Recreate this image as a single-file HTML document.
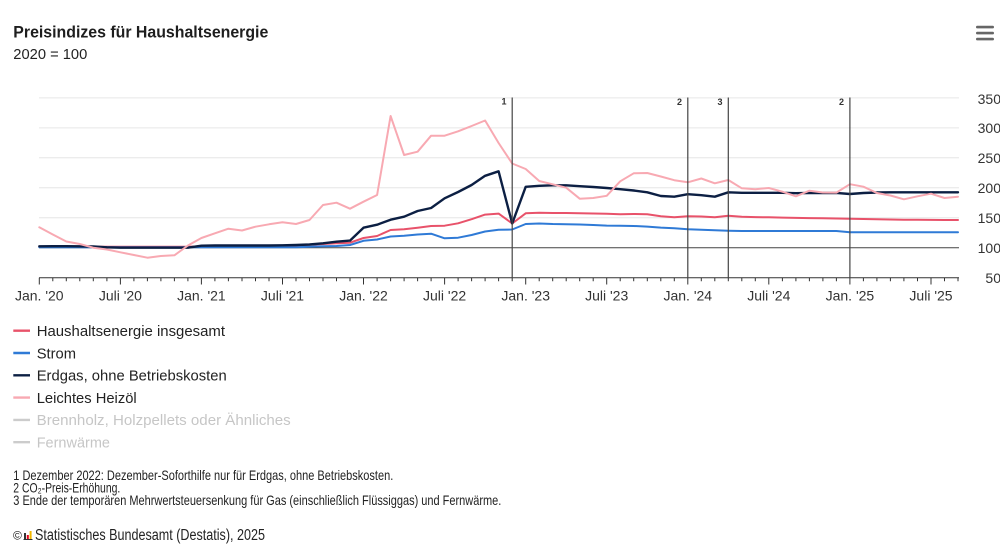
<!DOCTYPE html>
<html><head><meta charset="utf-8"><style>
html,body{margin:0;padding:0;background:#fff;width:1000px;height:550px;overflow:hidden}
svg{display:block}
text{font-family:"Liberation Sans","DejaVu Sans",sans-serif}
</style></head><body>
<svg width="1000" height="550" viewBox="0 0 1000 550" xmlns="http://www.w3.org/2000/svg">
<rect width="1000" height="550" fill="#fff"/>
<!-- title -->
<text x="13.3" y="37.5" font-size="16.8" font-weight="bold" fill="#1e1e1e" textLength="255" lengthAdjust="spacingAndGlyphs">Preisindizes für Haushaltsenergie</text>
<text x="13.3" y="59" font-size="14.5" fill="#222" textLength="74" lengthAdjust="spacingAndGlyphs">2020 = 100</text>
<!-- hamburger -->
<g fill="#666"><rect x="976" y="25.8" width="18" height="2.6" rx="1.2"/><rect x="976" y="31.8" width="18" height="2.6" rx="1.2"/><rect x="976" y="37.8" width="18" height="2.6" rx="1.2"/></g>
<!-- grid -->
<g stroke="#e6e6e6" stroke-width="1">
<line x1="39" y1="97.9" x2="959" y2="97.9"/>
<line x1="39" y1="127.9" x2="959" y2="127.9"/>
<line x1="39" y1="157.8" x2="959" y2="157.8"/>
<line x1="39" y1="187.8" x2="959" y2="187.8"/>
<line x1="39" y1="217.8" x2="959" y2="217.8"/>
</g>
<line x1="39" y1="247.8" x2="959" y2="247.8" stroke="#444" stroke-width="1"/>
<!-- y labels -->
<g font-size="14" fill="#333" text-anchor="end">
<text x="1001" y="104">350</text>
<text x="1001" y="133">300</text>
<text x="1001" y="163">250</text>
<text x="1001" y="193">200</text>
<text x="1001" y="223">150</text>
<text x="1001" y="253">100</text>
<text x="1001" y="283">50</text>
</g>
<!-- x axis -->
<line x1="39" y1="277.7" x2="959" y2="277.7" stroke="#333" stroke-width="1"/>
<path stroke="#333" stroke-width="1" fill="none" d="M39.3 277.7V284.5M52.8 277.7V281.3M66.3 277.7V281.3M79.8 277.7V281.3M93.3 277.7V281.3M106.9 277.7V281.3M120.4 277.7V284.5M133.9 277.7V281.3M147.4 277.7V281.3M160.9 277.7V281.3M174.4 277.7V281.3M187.9 277.7V281.3M201.4 277.7V284.5M214.9 277.7V281.3M228.4 277.7V281.3M242 277.7V281.3M255.5 277.7V281.3M269 277.7V281.3M282.5 277.7V284.5M296 277.7V281.3M309.5 277.7V281.3M323 277.7V281.3M336.5 277.7V281.3M350 277.7V281.3M363.5 277.7V284.5M377.1 277.7V281.3M390.6 277.7V281.3M404.1 277.7V281.3M417.6 277.7V281.3M431.1 277.7V281.3M444.6 277.7V284.5M458.1 277.7V281.3M471.6 277.7V281.3M485.1 277.7V281.3M498.6 277.7V281.3M512.2 277.7V281.3M525.7 277.7V284.5M539.2 277.7V281.3M552.7 277.7V281.3M566.2 277.7V281.3M579.7 277.7V281.3M593.2 277.7V281.3M606.7 277.7V284.5M620.2 277.7V281.3M633.7 277.7V281.3M647.3 277.7V281.3M660.8 277.7V281.3M674.3 277.7V281.3M687.8 277.7V284.5M701.3 277.7V281.3M714.8 277.7V281.3M728.3 277.7V281.3M741.8 277.7V281.3M755.3 277.7V281.3M768.8 277.7V284.5M782.4 277.7V281.3M795.9 277.7V281.3M809.4 277.7V281.3M822.9 277.7V281.3M836.4 277.7V281.3M849.9 277.7V284.5M863.4 277.7V281.3M876.9 277.7V281.3M890.4 277.7V281.3M903.9 277.7V281.3M917.5 277.7V281.3M931 277.7V284.5M944.5 277.7V281.3M958 277.7V281.3"/>
<g font-size="14" fill="#333" text-anchor="middle">
<text x="39.3" y="300.5">Jan. '20</text>
<text x="120.4" y="300.5">Juli '20</text>
<text x="201.4" y="300.5">Jan. '21</text>
<text x="282.5" y="300.5">Juli '21</text>
<text x="363.5" y="300.5">Jan. '22</text>
<text x="444.6" y="300.5">Juli '22</text>
<text x="525.7" y="300.5">Jan. '23</text>
<text x="606.7" y="300.5">Juli '23</text>
<text x="687.8" y="300.5">Jan. '24</text>
<text x="768.8" y="300.5">Juli '24</text>
<text x="849.9" y="300.5">Jan. '25</text>
<text x="931" y="300.5">Juli '25</text>
</g>
<!-- series -->
<g fill="none" stroke-width="2" stroke-linejoin="round" stroke-linecap="round">
<polyline stroke="#e8526a" points="39.3,246.7 52.8,246.7 66.3,246.7 79.8,246.7 93.3,246.7 106.9,246.7 120.4,246.7 133.9,246.7 147.4,246.7 160.9,246.7 174.4,246.7 187.9,246.7 201.4,246.3 214.9,246.3 228.4,246.3 242,246.3 255.5,246.3 269,246.3 282.5,246 296,245.5 309.5,244.8 323,244 336.5,243.3 350,242.7 363.5,238 377.1,236 390.6,230 404.1,229.3 417.6,227.7 431.1,226 444.6,225.7 458.1,223.3 471.6,219.2 485.1,214.6 498.6,213.6 512.2,223.5 525.7,213.3 539.2,212.8 552.7,213 566.2,213 579.7,213.2 593.2,213.5 606.7,213.8 620.2,214.3 633.7,214 647.3,214.3 660.8,216.3 674.3,217.3 687.8,216.2 701.3,216.5 714.8,217.3 728.3,215.8 741.8,216.8 755.3,217.1 768.8,217.3 782.4,217.6 795.9,217.9 809.4,218.1 822.9,218.3 836.4,218.5 849.9,218.8 863.4,219 876.9,219.3 890.4,219.5 903.9,219.7 917.5,219.8 931,219.9 944.5,220 958,220"/>
<polyline stroke="#2f7ad6" points="39.3,247.3 52.8,247.3 66.3,247.3 79.8,247.3 93.3,247.3 106.9,247.3 120.4,247.3 133.9,247.3 147.4,247.3 160.9,247.3 174.4,247.3 187.9,247.3 201.4,247.3 214.9,247.3 228.4,247.3 242,247.3 255.5,247.3 269,247.3 282.5,247.3 296,247.3 309.5,246.8 323,246.3 336.5,246 350,245 363.5,240.8 377.1,239.5 390.6,236.5 404.1,235.8 417.6,234.5 431.1,233.7 444.6,238.3 458.1,237.7 471.6,235 485.1,231.5 498.6,229.8 512.2,229.5 525.7,224 539.2,223.5 552.7,224 566.2,224.2 579.7,224.5 593.2,225 606.7,225.6 620.2,225.8 633.7,226 647.3,226.6 660.8,227.6 674.3,228.3 687.8,229.2 701.3,229.7 714.8,230.3 728.3,230.7 741.8,231 755.3,231 768.8,231 782.4,231 795.9,231 809.4,231 822.9,231 836.4,231 849.9,232.3 863.4,232.3 876.9,232.3 890.4,232.3 903.9,232.3 917.5,232.3 931,232.3 944.5,232.3 958,232.3"/>
<polyline stroke="#0c1f43" stroke-width="2.4" points="39.3,246.3 52.8,246.2 66.3,246.2 79.8,246.3 93.3,246.5 106.9,247.3 120.4,247.7 133.9,247.7 147.4,247.7 160.9,247.7 174.4,247.7 187.9,247.7 201.4,245.7 214.9,245.5 228.4,245.5 242,245.5 255.5,245.5 269,245.5 282.5,245.3 296,245 309.5,244.5 323,243.3 336.5,241.7 350,240.6 363.5,227.7 377.1,224.7 390.6,219.7 404.1,216.7 417.6,211 431.1,208 444.6,198.3 458.1,192 471.6,185 485.1,175.8 498.6,171.3 512.2,223.5 525.7,186.8 539.2,185.8 552.7,185.3 566.2,185.3 579.7,186.2 593.2,187 606.7,188 620.2,189.2 633.7,190.5 647.3,192.3 660.8,196 674.3,196.7 687.8,194.2 701.3,195.2 714.8,196.7 728.3,192.3 741.8,192.8 755.3,192.8 768.8,192.8 782.4,192.8 795.9,193.2 809.4,193 822.9,193 836.4,192.9 849.9,194 863.4,193 876.9,192.5 890.4,192.3 903.9,192.3 917.5,192.3 931,192.3 944.5,192.3 958,192.3"/>
<polyline stroke="#f8a9b2" points="39.3,227.3 52.8,234.5 66.3,241.5 79.8,244 93.3,247.7 106.9,249.5 120.4,252.3 133.9,255 147.4,257.7 160.9,256 174.4,255.3 187.9,245.5 201.4,238 214.9,233.3 228.4,228.7 242,230.5 255.5,226.7 269,224.3 282.5,222.3 296,224 309.5,220 323,205 336.5,202.7 350,208.7 363.5,201.7 377.1,195 390.6,116 404.1,155 417.6,151.7 431.1,135.7 444.6,135.7 458.1,131.3 471.6,126 485.1,120.5 498.6,143 512.2,163.5 525.7,169 539.2,181 552.7,184.3 566.2,187.7 579.7,198.7 593.2,198 606.7,195.8 620.2,181.3 633.7,173.3 647.3,173 660.8,176.5 674.3,180.2 687.8,182.3 701.3,178.5 714.8,183.3 728.3,180 741.8,188.3 755.3,189.2 768.8,188 782.4,191.7 795.9,196.3 809.4,190.7 822.9,192.5 836.4,192.6 849.9,184.2 863.4,186.7 876.9,193 890.4,195.5 903.9,199.3 917.5,196.3 931,193.7 944.5,198 958,196.7"/>
</g>
<!-- markers -->
<g stroke="#444" stroke-width="1.2">
<line x1="512.2" y1="97.5" x2="512.2" y2="278"/>
<line x1="687.8" y1="97.5" x2="687.8" y2="278"/>
<line x1="728.3" y1="97.5" x2="728.3" y2="278"/>
<line x1="849.9" y1="97.5" x2="849.9" y2="278"/>
</g>
<g font-size="9" font-weight="bold" fill="#333" text-anchor="end">
<text x="506.5" y="104.5">1</text>
<text x="682" y="105">2</text>
<text x="722.5" y="105">3</text>
<text x="844" y="105">2</text>
</g>
<!-- legend -->
<g stroke-width="2.4">
<line x1="13.3" y1="330.7" x2="30" y2="330.7" stroke="#e8526a"/>
<line x1="13.3" y1="353" x2="30" y2="353" stroke="#2f7ad6"/>
<line x1="13.3" y1="375.3" x2="30" y2="375.3" stroke="#0c1f43"/>
<line x1="13.3" y1="397.6" x2="30" y2="397.6" stroke="#f8a9b2"/>
<line x1="13.3" y1="419.9" x2="30" y2="419.9" stroke="#cccccc"/>
<line x1="13.3" y1="442.2" x2="30" y2="442.2" stroke="#cccccc"/>
</g>
<g font-size="15">
<text x="36.7" y="336" fill="#222" textLength="188.3" lengthAdjust="spacingAndGlyphs">Haushaltsenergie insgesamt</text>
<text x="36.7" y="358.3" fill="#222" textLength="39.3" lengthAdjust="spacingAndGlyphs">Strom</text>
<text x="36.7" y="380.6" fill="#222" textLength="190" lengthAdjust="spacingAndGlyphs">Erdgas, ohne Betriebskosten</text>
<text x="36.7" y="402.9" fill="#222" textLength="100" lengthAdjust="spacingAndGlyphs">Leichtes Heizöl</text>
<text x="36.7" y="425.2" fill="#c6c6c6" textLength="254" lengthAdjust="spacingAndGlyphs">Brennholz, Holzpellets oder Ähnliches</text>
<text x="36.7" y="447.5" fill="#c6c6c6" textLength="73.3" lengthAdjust="spacingAndGlyphs">Fernwärme</text>
</g>
<!-- footnotes -->
<g font-size="13.6" fill="#222">
<text x="13.3" y="480" textLength="380" lengthAdjust="spacingAndGlyphs">1 Dezember 2022: Dezember-Soforthilfe nur für Erdgas, ohne Betriebskosten.</text>
<text x="13.3" y="492.5" textLength="107" lengthAdjust="spacingAndGlyphs">2 CO₂-Preis-Erhöhung.</text>
<text x="13.3" y="505" textLength="488" lengthAdjust="spacingAndGlyphs">3 Ende der temporären Mehrwertsteuersenkung für Gas (einschließlich Flüssiggas) und Fernwärme.</text>
</g>
<text x="13" y="539.5" font-size="12" fill="#222">©</text>
<g>
<rect x="24" y="533" width="2" height="6.5" fill="#333"/>
<rect x="26.8" y="535" width="2" height="4.5" fill="#e2001a"/>
<rect x="29.6" y="531" width="2" height="8.5" fill="#f2b800"/>
<rect x="23.5" y="539" width="9" height="1" fill="#333"/>
</g>
<text x="35" y="540" font-size="15.5" fill="#222" textLength="230" lengthAdjust="spacingAndGlyphs">Statistisches Bundesamt (Destatis), 2025</text>
</svg>
</body></html>
